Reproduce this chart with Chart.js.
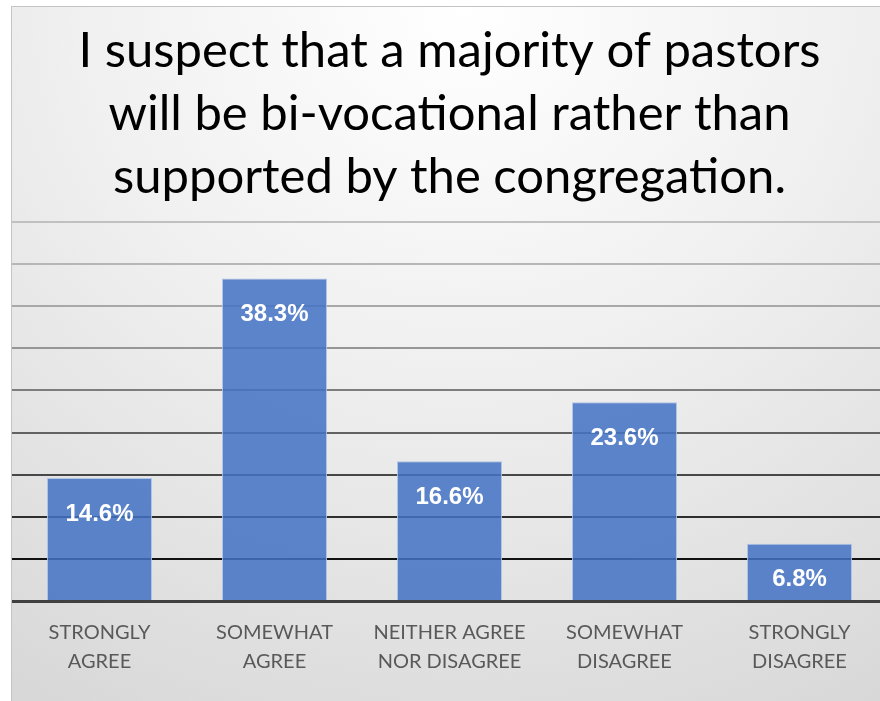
<!DOCTYPE html>
<html>
<head>
<meta charset="utf-8">
<script src="https://cdn.jsdelivr.net/npm/chart.js@4"></script>
<style>
  html, body { margin: 0; padding: 0; overflow: hidden; background: #fff; }
  #frame {
    position: absolute; left: 11px; top: 6px;
    width: 900px; height: 720px;
    border: 1px solid #c4c4c4;
    background: radial-gradient(ellipse 95% 110% at 50% 0%, #ffffff 0%, #f0f0f0 45%, #d8d8d8 100%);
  }
  #wrap { position: absolute; left: 0; top: 0; width: 875px; height: 694px; }
</style>
</head>
<body>
<div id="frame"><div id="wrap"><canvas id="surveyChart"></canvas></div></div>
<script>
const titleLines = ['I suspect that a majority of pastors', 'will be bi-vocational rather than', 'supported by the congregation.'];
const categories = [['STRONGLY', 'AGREE'], ['SOMEWHAT', 'AGREE'], ['NEITHER AGREE', 'NOR DISAGREE'], ['SOMEWHAT', 'DISAGREE'], ['STRONGLY', 'DISAGREE']];
const percents = [14.6, 38.3, 16.6, 23.6, 6.8];
const gridShades = ['rgba(0,0,0,0)', '#111111', '#2e2e2e', '#474747', '#626262', '#7d7d7d', '#969696', '#a8a8a8', '#b6b6b6', '#c0c0c0'];

// white value labels just inside the top of each bar
const barValues = {
  id: 'barValues',
  afterDatasetsDraw(chart) {
    const ctx = chart.ctx;
    ctx.save();
    ctx.fillStyle = '#ffffff';
    ctx.font = 'bold 24px "Liberation Sans", Arial, sans-serif';
    ctx.textAlign = 'center';
    ctx.textBaseline = 'middle';
    chart.getDatasetMeta(0).data.forEach((bar, i) => {
      ctx.fillText(percents[i].toFixed(1) + '%', bar.x, bar.y + 36);
    });
    ctx.restore();
  }
};

new Chart(document.getElementById('surveyChart').getContext('2d'), {
  type: 'bar',
  data: {
    labels: categories,
    datasets: [{
      data: percents,
      backgroundColor: 'rgba(68, 114, 196, 0.86)',
      borderColor: 'rgba(170, 192, 230, 0.9)',
      borderWidth: 1,
      barPercentage: 0.6,
      categoryPercentage: 1.0
    }]
  },
  options: {
    responsive: true,
    maintainAspectRatio: false,
    animation: false,
    layout: { padding: 0 },
    plugins: {
      legend: { display: false },
      tooltip: { enabled: false },
      title: {
        display: true,
        text: titleLines,
        color: '#000000',
        font: { family: 'Lato', size: 49, weight: 'normal', lineHeight: 1.286 },
        padding: { top: 13, bottom: 13 }
      }
    },
    scales: {
      x: {
        grid: { display: false, drawTicks: false },
        border: { display: true, color: '#404040', width: 3 },
        ticks: {
          color: '#595959',
          font: { family: 'Lato', size: 20, lineHeight: 1.45 },
          padding: 17,
          maxRotation: 0,
          autoSkip: false
        },
        afterFit: s => { s.height = 100; }
      },
      y: {
        min: 0,
        max: 45,
        ticks: { display: false, stepSize: 5 },
        border: { display: false },
        grid: {
          drawTicks: false,
          lineWidth: 2,
          color: c => gridShades[Math.round(c.tick.value / 5)] || '#c0c0c0'
        },
        afterFit: s => { s.width = 0; }
      }
    }
  },
  plugins: [barValues]
});
</script>
</body>
</html>
